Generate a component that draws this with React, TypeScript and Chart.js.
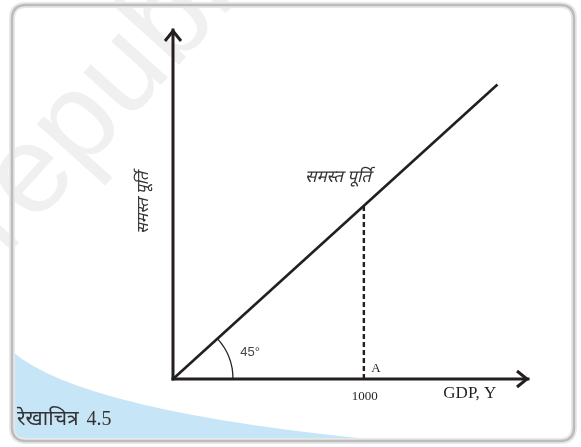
import React, { useEffect, useRef } from "react";
import { Chart, registerables } from "chart.js";

Chart.register(...registerables);

// ---- data ----
const AXIS_X_MAX = 1860;
const AXIS_Y_MAX = 2015;
const supplyX = [0, 1700];
const supplyY = [0, 1700];
const equilibriumX = [1000, 1000];
const equilibriumY = [0, 1000];
const xTickValues = [1000];
const xTickLabels = ["1000"];
const pointLabel = "A";
const lineLabel = "समस्त पूर्ति";
const yAxisTitle = "समस्त पूर्ति";
const xAxisTitle = "GDP, Y";
const angleLabel = "45°";
const figureCaption = "रेखाचित्र";
const figureNumber = "4.5";
const watermark = "republished";

const INK = "#231f20";
const DEVA = "'Noto Sans Devanagari', 'Noto Serif Devanagari', 'Lohit Devanagari', 'Noto Sans', sans-serif";
const SERIF = "'Liberation Serif', 'DejaVu Serif', serif";

function toPts(xs: number[], ys: number[]) {
  return xs.map((x, i) => ({ x, y: ys[i] }));
}

function roundRect(ctx: CanvasRenderingContext2D, x: number, y: number, w: number, h: number, r: number) {
  ctx.beginPath();
  ctx.moveTo(x + r, y);
  ctx.lineTo(x + w - r, y);
  ctx.quadraticCurveTo(x + w, y, x + w, y + r);
  ctx.lineTo(x + w, y + h - r);
  ctx.quadraticCurveTo(x + w, y + h, x + w - r, y + h);
  ctx.lineTo(x + r, y + h);
  ctx.quadraticCurveTo(x, y + h, x, y + h - r);
  ctx.lineTo(x, y + r);
  ctx.quadraticCurveTo(x, y, x + r, y);
  ctx.closePath();
}

const decor = {
  id: "decor",
  beforeDraw(chart: any) {
    const ctx: CanvasRenderingContext2D = chart.ctx;
    const W = chart.width, H = chart.height;
    ctx.save();
    ctx.fillStyle = "#ffffff";
    ctx.fillRect(0, 0, W, H);
    const fx = 12, fy = 5, fw = 562, fh = 436, fr = 14;
    ctx.save();
    roundRect(ctx, fx, fy, fw, fh, fr);
    ctx.clip();
    ctx.beginPath();
    ctx.moveTo(0, 338);
    ctx.quadraticCurveTo(50, 410, 400, 442);
    ctx.lineTo(400, H);
    ctx.lineTo(0, H);
    ctx.closePath();
    ctx.fillStyle = "#c6e5f6";
    ctx.fill();
    ctx.restore();
    // watermark
    ctx.save();
    ctx.translate(6, 257);
    ctx.rotate((-48 * Math.PI) / 180);
    ctx.font = "125px 'Liberation Sans', Arial, sans-serif";
    ctx.fillStyle = "rgba(205,205,205,0.3)";
    ctx.fillText(watermark, 0, 0);
    ctx.restore();
    // frame stroke
    roundRect(ctx, fx, fy, fw, fh, fr);
    ctx.lineWidth = 6;
    ctx.strokeStyle = "#e8e8e8";
    ctx.stroke();
    roundRect(ctx, fx, fy, fw, fh, fr);
    ctx.lineWidth = 2.5;
    ctx.strokeStyle = "#bcbcbc";
    ctx.stroke();
    ctx.restore();
  },
  afterDatasetsDraw(chart: any) {
    const ctx: CanvasRenderingContext2D = chart.ctx;
    const xs = chart.scales.x, ys = chart.scales.y;
    const ox = xs.getPixelForValue(0), oy = ys.getPixelForValue(0);
    const xEnd = xs.getPixelForValue(AXIS_X_MAX);
    const yEnd = ys.getPixelForValue(AXIS_Y_MAX);
    ctx.save();
    ctx.strokeStyle = INK;
    ctx.lineWidth = 3;
    ctx.lineJoin = "miter";
    ctx.lineCap = "butt";
    ctx.beginPath();
    ctx.moveTo(ox - 8, yEnd + 11);
    ctx.lineTo(ox, yEnd + 1);
    ctx.lineTo(ox + 8, yEnd + 11);
    ctx.stroke();
    ctx.beginPath();
    ctx.moveTo(xEnd - 11, oy - 8);
    ctx.lineTo(xEnd - 1, oy);
    ctx.lineTo(xEnd - 11, oy + 8);
    ctx.stroke();
    const lx = xs.getPixelForValue(supplyX[1]) - ox;
    const ly = ys.getPixelForValue(supplyY[1]) - oy;
    const ang = Math.atan2(ly, lx);
    ctx.beginPath();
    ctx.lineWidth = 1.3;
    ctx.strokeStyle = "#222";
    ctx.arc(ox, oy, 60, ang, 0);
    ctx.stroke();
    ctx.textAlign = "center";
    ctx.textBaseline = "middle";
    ctx.fillStyle = "#444";
    ctx.font = "13px 'Liberation Sans', Arial, sans-serif";
    ctx.fillText(angleLabel, ox + 77, oy - 27);

    ctx.fillStyle = "#231f20";
    ctx.font = `13px ${SERIF}`;
    xTickValues.forEach((v, i) => {
      const px = xs.getPixelForValue(v);
      ctx.fillText(xTickLabels[i], px + 1, oy + 18);
      ctx.fillText(pointLabel, px + 12, oy - 10);
    });
    ctx.font = `17px ${SERIF}`;
    ctx.fillText(xAxisTitle, xs.getPixelForValue(1555), oy + 15);

    ctx.fillStyle = "#333";
    ctx.font = `italic 17px ${DEVA}`;
    ctx.fillText(lineLabel, 338, 179);

    ctx.save();
    ctx.translate(145, 203);
    ctx.rotate(-Math.PI / 2);
    ctx.font = `italic 16px ${DEVA}`;
    ctx.fillText(yAxisTitle, 0, 0);
    ctx.restore();

    ctx.textAlign = "left";
    ctx.textBaseline = "alphabetic";
    ctx.fillStyle = "#333";
    ctx.font = `21px ${DEVA}`;
    ctx.fillText(figureCaption, 17, 425);
    const cw = ctx.measureText(figureCaption).width;
    ctx.font = `20px ${SERIF}`;
    ctx.fillText(figureNumber, 17 + cw + 8, 425);
    ctx.restore();
  },
};

export default function App() {
  const ref = useRef<HTMLCanvasElement | null>(null);
  useEffect(() => {
    if (!ref.current) return;
    const chart = new Chart(ref.current, {
      type: "scatter",
      data: {
        datasets: [
          {
            data: [{ x: 0, y: 0 }, { x: AXIS_X_MAX, y: 0 }],
            showLine: true,
            borderColor: INK,
            borderWidth: 3,
            borderCapStyle: "square",
            pointRadius: 0,
            clip: false,
          } as any,
          {
            data: [{ x: 0, y: 0 }, { x: 0, y: AXIS_Y_MAX }],
            showLine: true,
            borderColor: INK,
            borderWidth: 3,
            borderCapStyle: "square",
            pointRadius: 0,
            clip: false,
          } as any,
          {
            data: toPts(supplyX, supplyY),
            showLine: true,
            borderColor: INK,
            borderWidth: 2.6,
            pointRadius: 0,
            clip: false,
          } as any,
          {
            data: toPts(equilibriumX, equilibriumY),
            showLine: true,
            borderColor: INK,
            borderWidth: 2.4,
            borderDash: [5, 3],
            pointRadius: 0,
            clip: false,
          } as any,
        ],
      },
      options: {
        responsive: false,
        animation: false,
        devicePixelRatio: 1,
        layout: { padding: { left: 173, right: 53, top: 30, bottom: 68 } },
        plugins: { legend: { display: false }, tooltip: { enabled: false } },
        events: [],
        scales: {
          x: { type: "linear", min: 0, max: AXIS_X_MAX, display: false },
          y: { type: "linear", min: 0, max: AXIS_Y_MAX, display: false },
        },
      },
      plugins: [decor],
    });
    return () => chart.destroy();
  }, []);
  return (
    <div style={{ position: "fixed", left: 0, top: 0, width: 581, height: 447 }}>
      <canvas ref={ref} width={581} height={447} style={{ display: "block" }} />
    </div>
  );
}
